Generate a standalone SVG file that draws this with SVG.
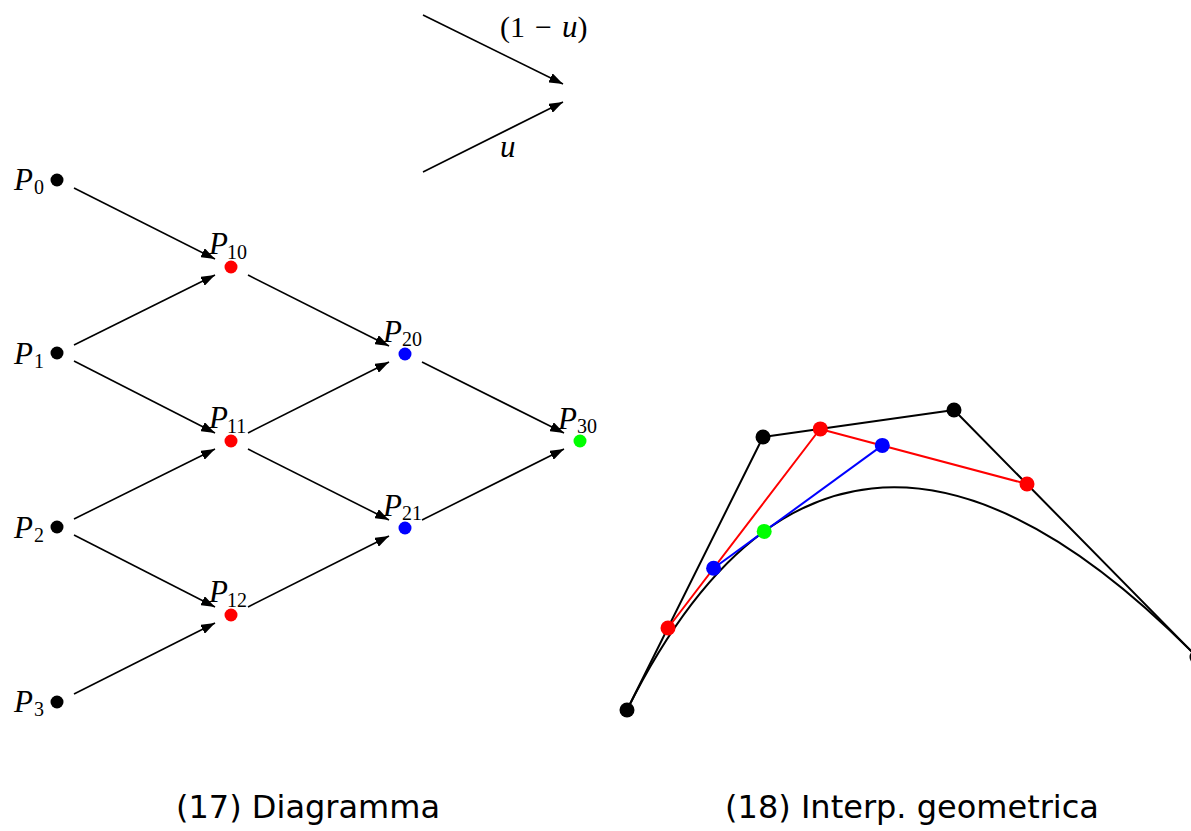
<svg xmlns="http://www.w3.org/2000/svg" width="1191" height="831" viewBox="0 0 1191 831">
<style>
.ln{stroke:#000;stroke-width:1.6;fill:none}
.m{font-family:"Liberation Serif",serif;font-style:italic;font-size:31px;fill:#000}
.s{font-family:"Liberation Serif",serif;font-size:20px;fill:#000}
.r{font-family:"Liberation Serif",serif;font-size:30px;fill:#000}
.cap{font-family:"DejaVu Sans",sans-serif;font-size:32px;fill:#000;text-anchor:middle}
.pk{fill:#000}.pr{fill:#ff0000}.pb{fill:#0000ff}.pg{fill:#00ff00}
.poly{fill:none;stroke-width:2;stroke-linejoin:round}
</style>
<defs>
<marker id="ah" viewBox="0 0 14 10" refX="14" refY="5" markerWidth="14" markerHeight="10" orient="auto" markerUnits="userSpaceOnUse">
<path d="M0,0 L14,5 L0,10 z" fill="#000"/>
</marker>
</defs>
<g id="legend">
<line class="ln" x1="423" y1="15" x2="563" y2="84" marker-end="url(#ah)"/>
<line class="ln" x1="423" y1="172" x2="563" y2="102" marker-end="url(#ah)"/>
<text x="500" y="37"><tspan class="r">(1</tspan><tspan class="r" dx="10">−</tspan><tspan class="m" dx="10">u</tspan><tspan class="r">)</tspan></text>
<text class="m" x="500" y="157">u</text>
</g>
<g id="connectors">
<line class="ln" x1="74" y1="188" x2="215" y2="259" marker-end="url(#ah)"/>
<line class="ln" x1="74" y1="345" x2="215" y2="275" marker-end="url(#ah)"/>
<line class="ln" x1="74" y1="361" x2="215" y2="433" marker-end="url(#ah)"/>
<line class="ln" x1="74" y1="519" x2="215" y2="449" marker-end="url(#ah)"/>
<line class="ln" x1="74" y1="535" x2="215" y2="607" marker-end="url(#ah)"/>
<line class="ln" x1="74" y1="694" x2="215" y2="623" marker-end="url(#ah)"/>
<line class="ln" x1="248" y1="275" x2="389" y2="346" marker-end="url(#ah)"/>
<line class="ln" x1="248" y1="433" x2="389" y2="362" marker-end="url(#ah)"/>
<line class="ln" x1="248" y1="449" x2="389" y2="520" marker-end="url(#ah)"/>
<line class="ln" x1="248" y1="607" x2="389" y2="536" marker-end="url(#ah)"/>
<line class="ln" x1="422" y1="362" x2="564" y2="433" marker-end="url(#ah)"/>
<line class="ln" x1="422" y1="520" x2="564" y2="449" marker-end="url(#ah)"/>
</g>
<g id="P0"><circle class="pk" cx="57" cy="180" r="6.5"/><text class="m" x="14" y="190">P</text><text class="s" x="34" y="194">0</text></g>
<g id="P1"><circle class="pk" cx="57" cy="353" r="6.5"/><text class="m" x="14" y="364">P</text><text class="s" x="34" y="368">1</text></g>
<g id="P2"><circle class="pk" cx="57" cy="527" r="6.5"/><text class="m" x="14" y="538">P</text><text class="s" x="34" y="542">2</text></g>
<g id="P3"><circle class="pk" cx="57" cy="702" r="6.5"/><text class="m" x="14" y="712">P</text><text class="s" x="34" y="716">3</text></g>
<g id="P10"><circle class="pr" cx="231" cy="267" r="6.5"/><text class="m" x="209" y="254">P</text><text class="s" x="227" y="259">10</text></g>
<g id="P11"><circle class="pr" cx="231" cy="441" r="6.5"/><text class="m" x="209" y="428">P</text><text class="s" x="227" y="433">11</text></g>
<g id="P12"><circle class="pr" cx="231" cy="615" r="6.5"/><text class="m" x="209" y="602">P</text><text class="s" x="227" y="607">12</text></g>
<g id="P20"><circle class="pb" cx="405" cy="354" r="6.5"/><text class="m" x="383" y="342">P</text><text class="s" x="402" y="346">20</text></g>
<g id="P21"><circle class="pb" cx="405" cy="528" r="6.5"/><text class="m" x="383" y="516">P</text><text class="s" x="402" y="520">21</text></g>
<g id="P30"><circle class="pg" cx="580" cy="441" r="6.5"/><text class="m" x="558" y="429">P</text><text class="s" x="577" y="433">30</text></g>
<g id="geometric">
<path class="poly" stroke="#000" d="M627,710 C763,437 954,410 1197,657"/>
<polyline class="poly" stroke="#000" points="627,710 763,437 954,410 1197,657"/>
<polyline class="poly" stroke="#ff0000" points="668,628 820,429 1027,484"/>
<polyline class="poly" stroke="#0000ff" points="713.6,568.3 882.3,445.4"/>
<circle class="pk" cx="627" cy="710" r="7.5"/>
<circle class="pk" cx="763" cy="437" r="7.5"/>
<circle class="pk" cx="954" cy="410" r="7.5"/>
<circle class="pk" cx="1197" cy="657" r="7.5"/>
<circle class="pr" cx="668" cy="628" r="7.5"/>
<circle class="pr" cx="820.3" cy="428.9" r="7.5"/>
<circle class="pr" cx="1027" cy="484" r="7.5"/>
<circle class="pb" cx="713.6" cy="568.3" r="7.5"/>
<circle class="pb" cx="882.3" cy="445.4" r="7.5"/>
<circle class="pg" cx="764.2" cy="531.4" r="7.5"/>
</g>
<text class="cap" x="308" y="818">(17) Diagramma</text>
<text class="cap" x="912" y="818">(18) Interp. geometrica</text>
</svg>
